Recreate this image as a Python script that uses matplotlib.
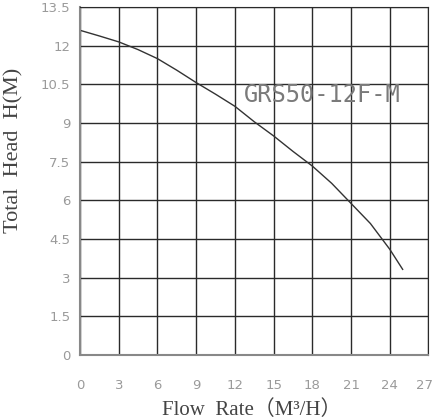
import matplotlib
matplotlib.use("Agg")
import matplotlib.pyplot as plt
import matplotlib.transforms as mtransforms

# pump curve
flow = [0, 1.5, 3, 4.5, 6, 7.5, 9, 10.5, 12, 13.5, 15, 16.5, 18, 19.5, 21, 22.5, 24, 25]
head = [12.6, 12.38, 12.15, 11.85, 11.5, 11.05, 10.57, 10.12, 9.65, 9.05, 8.5,
        7.9, 7.33, 6.66, 5.88, 5.1, 4.1, 3.32]

x_ticks = [0, 3, 6, 9, 12, 15, 18, 21, 24, 27]
y_ticks = [0, 1.5, 3, 4.5, 6, 7.5, 9, 10.5, 12, 13.5]
y_tick_labels = ["0", "1.5", "3", "4.5", "6", "7.5", "9", "10.5", "12", "13.5"]

fig = plt.figure(figsize=(4.35, 4.19), dpi=100)
ax = fig.add_axes([0.184, 0.153, 0.801, 0.830])

ax.plot(flow, head, color="#333333", lw=1.0)

ax.set_xlim(0, 27)
ax.set_ylim(0, 13.5)
ax.set_xticks(x_ticks)
ax.set_yticks(y_ticks)
ax.set_yticklabels(y_tick_labels)
ax.grid(True, color="#2a2a2a", lw=1.0)
ax.set_axisbelow(True)

ax.tick_params(length=0, colors="#9a9a9a", labelsize=9.5)
ax.tick_params(axis="x", pad=17)
ax.tick_params(axis="y", pad=7)

# nudge the last x label so it stays inside the picture
last = ax.get_xticklabels()[-1]
last.set_transform(last.get_transform() +
                   mtransforms.ScaledTranslation(-4 / 100, 0, fig.dpi_scale_trans))

for side in ["top", "right"]:
    ax.spines[side].set_color("#2a2a2a")
for side in ["left", "bottom"]:
    ax.spines[side].set_color("#888888")
    ax.spines[side].set_linewidth(1.5)

ax.text(12.7, 10.1, "GRS50-12F-M", fontsize=17, color="#7a7a7a",
        family="DejaVu Sans Mono", va="center", ha="left")

fig.text(0.033, 0.64, "Total  Head  H(M)", rotation=90, ha="center", va="center",
         fontsize=16, family="Liberation Serif", color="#444444")
fig.text(0.578, 0.022, "Flow  Rate（M³/H）", ha="center", va="center",
         fontsize=15, family=["Liberation Serif", "Noto Sans CJK SC"], color="#444444")

fig.savefig("out.png", dpi=100)
